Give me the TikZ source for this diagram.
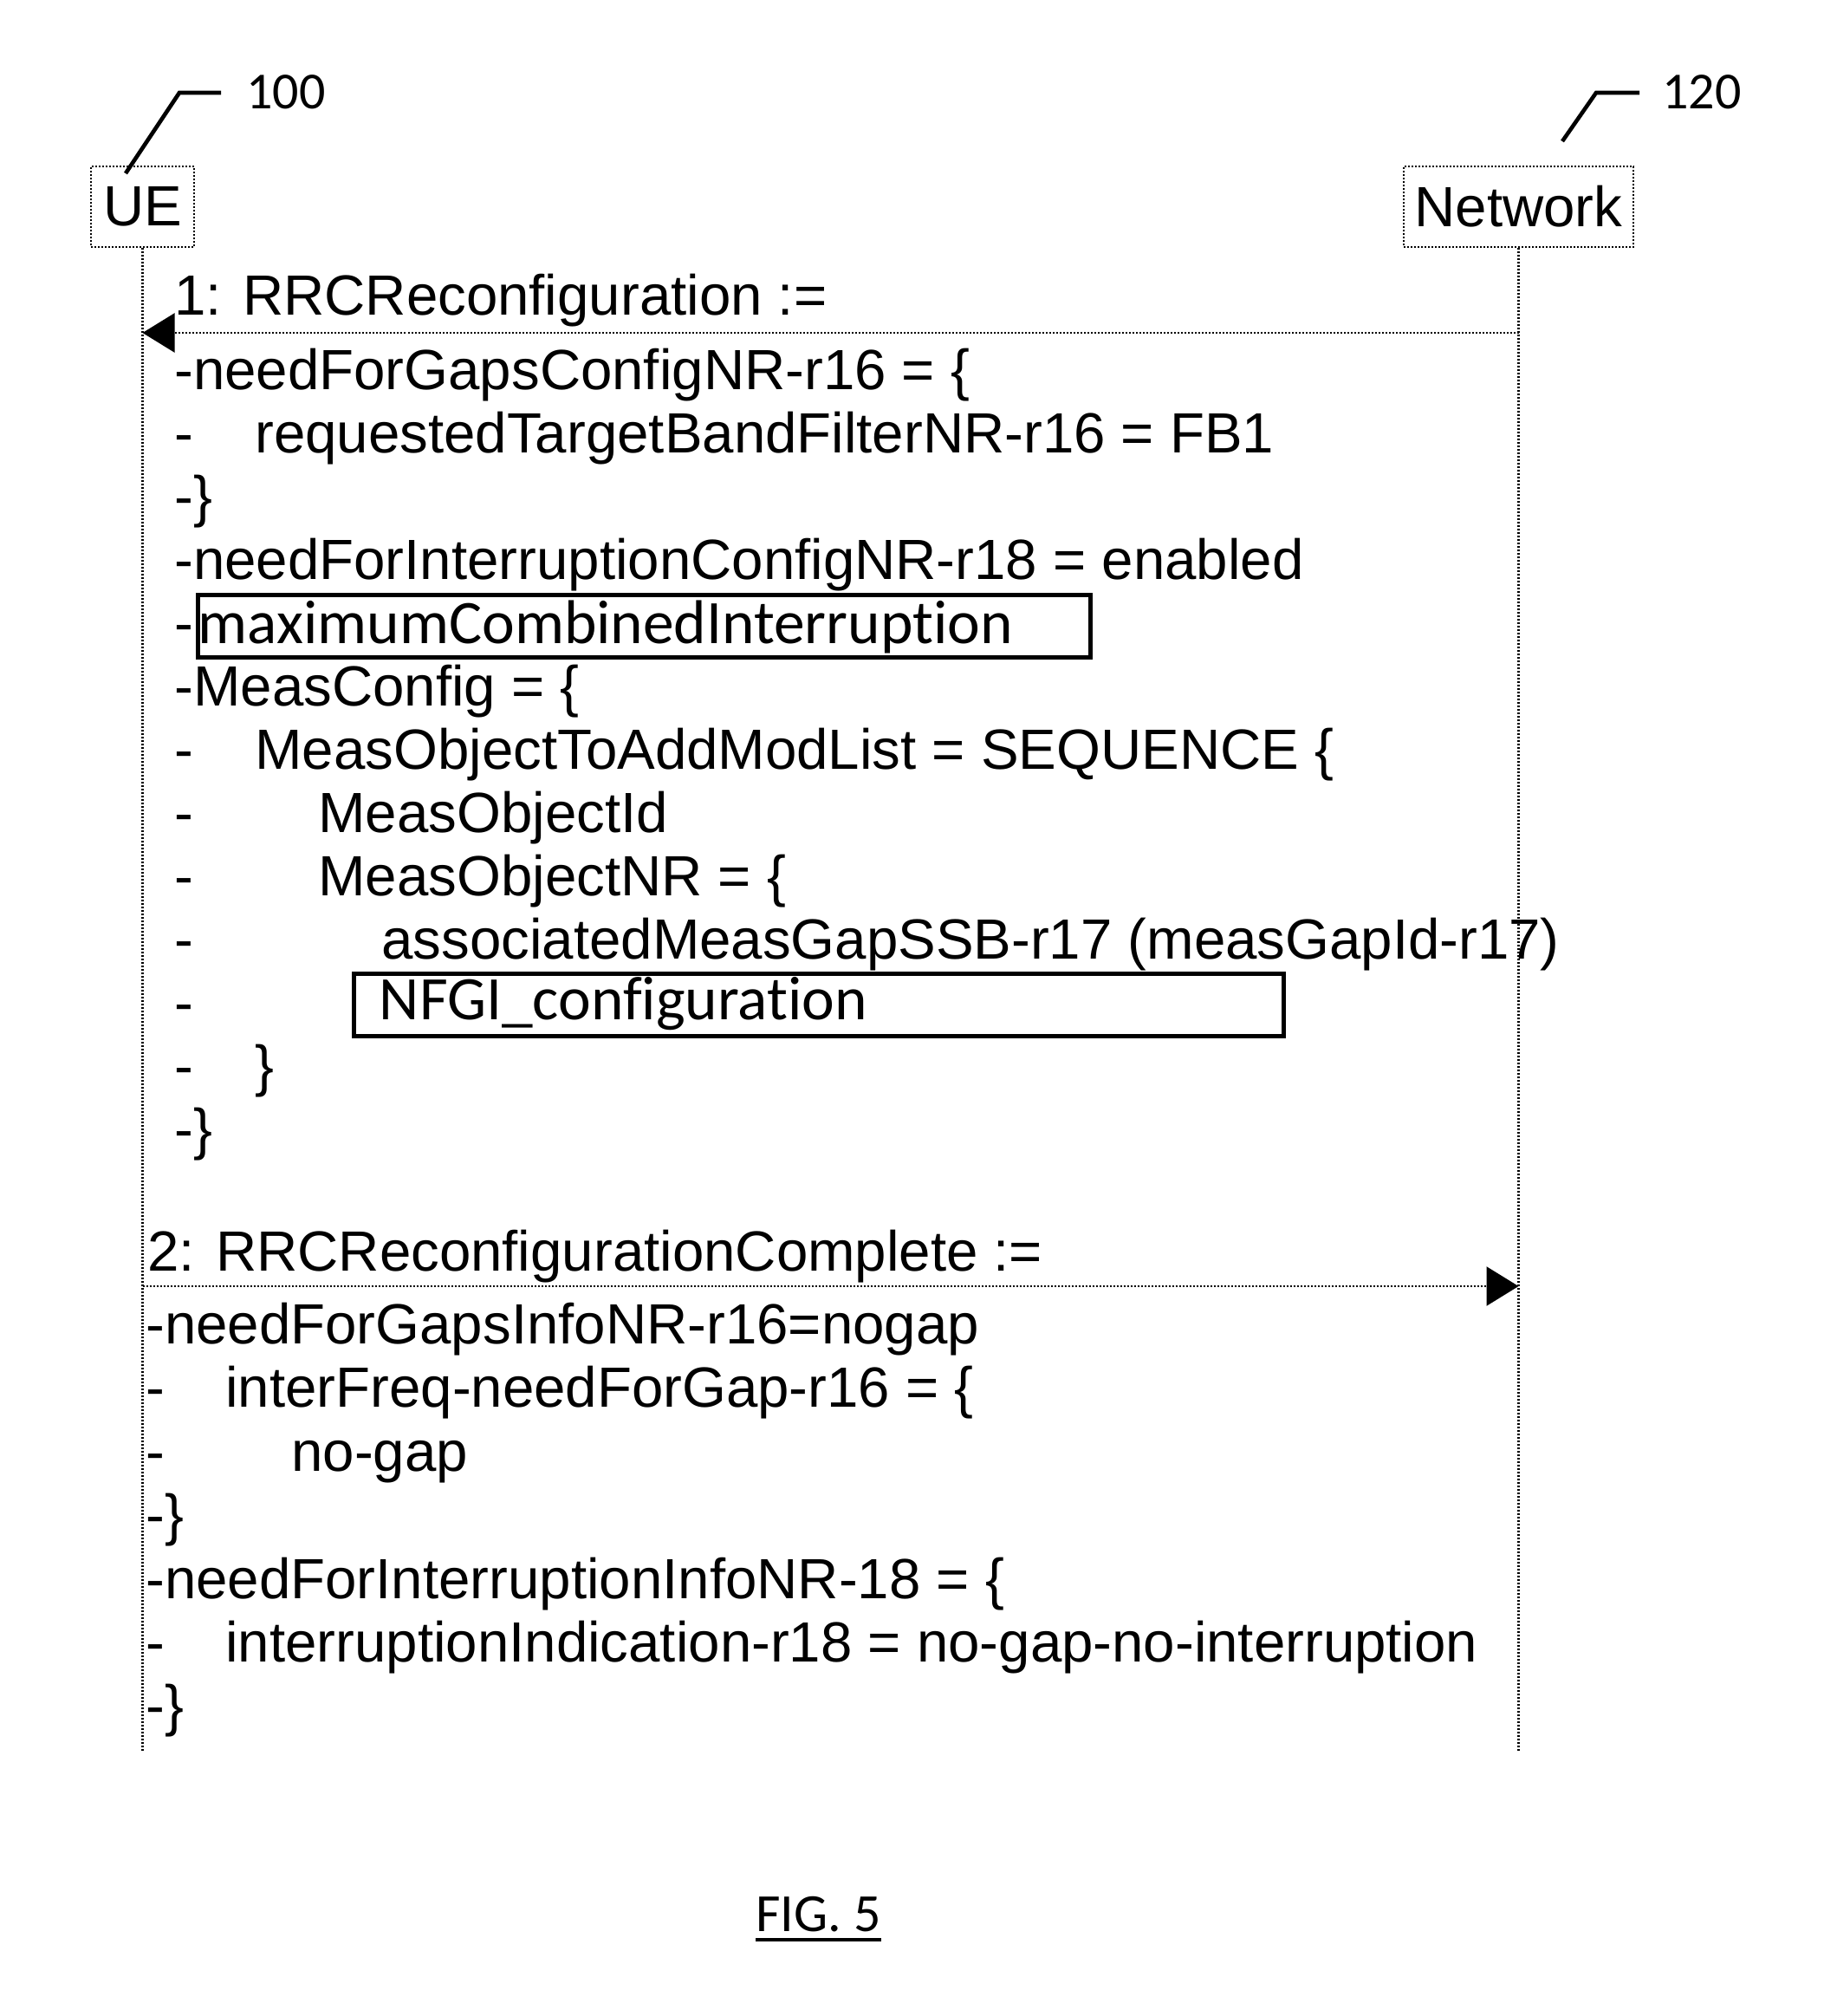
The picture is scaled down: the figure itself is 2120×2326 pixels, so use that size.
\documentclass[tikz,border=0pt]{standalone}
\usepackage{fontspec}
\setmainfont{Liberation Sans}
\newfontfamily\calfont[RawFeature=-liga]{Carlito}
\usetikzlibrary{arrows.meta}
\newcommand\ind[1]{\makebox[#1][l]{-}}
\begin{document}
\begin{tikzpicture}[x=0.5pt,y=-0.5pt,
  msg/.style={anchor=base west, inner sep=0pt, font=\fontsize{32.7}{39}\selectfont},
  cal/.style={anchor=base west, inner sep=0pt, font=\calfont\fontsize{35.7}{42}\selectfont},
  entity/.style={draw, dash pattern=on 1pt off 1pt, line width=1.2pt, inner sep=0pt, font=\fontsize{32.7}{39}\selectfont},
  life/.style={dash pattern=on 1pt off 1pt, line width=1.2pt},
  arr/.style={dash pattern=on 1pt off 1pt, line width=1.2pt, -{Triangle[length=18.5pt,width=22.5pt]}},
  hlbox/.style={draw, line width=2.6pt, inner sep=0pt, anchor=north west},
  leader/.style={line width=2.3pt},
]
\path[use as bounding box] (0,0) rectangle (2120,2326);

% entities
\node[entity, minimum width=59.5pt, minimum height=46.5pt] (ue) at (164.5,238.5) {UE};
\node[entity, minimum width=132.5pt, minimum height=46.5pt] (net) at (1752.5,238.5) {Network};
\coordinate (yend) at (0,2021);
\draw[life] (ue.south) -- (ue.south |- yend);
\draw[life] (net.south) -- (net.south |- yend);

% reference labels
\node[cal, font=\calfont\fontsize{30}{36}\selectfont] (l100) at (284,125) {100};
\node[cal, font=\calfont\fontsize{30}{36}\selectfont] (l120) at (1918,125) {120};
\coordinate (c100) at (145,200);
\coordinate (c120) at (1803,163);
\draw[leader] (c100) -- ++(62,-93) -- ++(48,0);
\draw[leader] (c120) -- ++(39,-56) -- ++(50,0);

% message 1
\coordinate (y1) at (0,384);
\draw[arr] (net.south |- y1) -- (ue.south |- y1);
\node[msg] (t1) at (201,363) {1: RRCReconfiguration :=};
\node[msg] (a1) at (201,449) {-needForGapsConfigNR-r16 = \{};
\node[msg] (a2) at (201,522) {\ind{46.5pt}requestedTargetBandFilterNR-r16 = FB1};
\node[msg] (a3) at (201,595) {-\}};
\node[msg] (a4) at (201,668) {-needForInterruptionConfigNR-r18 = enabled};
\node[msg] (a5) at (201,741) {-};
\node[hlbox, minimum width=515pt, minimum height=36.25pt] (box1) at (225.5,683.5) {};
\node[cal] (mci) at (228.5,742) {maximumCombinedInterruption};
\node[msg] (a6) at (201,814) {-MeasConfig = \{};
\node[msg] (a7) at (201,887) {\ind{46.5pt}MeasObjectToAddModList = SEQUENCE \{};
\node[msg] (a8) at (201,960) {\ind{83pt}MeasObjectId};
\node[msg] (a9) at (201,1033) {\ind{83pt}MeasObjectNR = \{};
\node[msg] (a10) at (201,1106) {\ind{119.5pt}associatedMeasGapSSB-r17 (measGapId-r17)};
\node[msg] (a11) at (201,1179) {-};
\node[hlbox, minimum width=536.5pt, minimum height=36pt] (box2) at (406,1121) {};
\node[cal] (nfgi) at (437.5,1176) {NFGI\_configuration};
\node[msg] (a12) at (201,1252) {\ind{46.5pt}\}};
\node[msg] (a13) at (201,1325) {-\}};

% message 2
\coordinate (y2) at (0,1484);
\draw[arr] (ue.south |- y2) -- (net.south |- y2);
\node[msg] (t2) at (170,1466) {2: RRCReconfigurationComplete :=};
\node[msg] (b1) at (168,1550) {-needForGapsInfoNR-r16=nogap};
\node[msg] (b2) at (168,1623) {\ind{46pt}interFreq-needForGap-r16 = \{};
\node[msg] (b3) at (168,1697) {\ind{84pt}no-gap};
\node[msg] (b4) at (168,1770) {-\}};
\node[msg] (b5) at (168,1844) {-needForInterruptionInfoNR-18 = \{};
\node[msg] (b6) at (168,1917) {\ind{46pt}interruptionIndication-r18 = no-gap-no-interruption};
\node[msg] (b7) at (168,1990) {-\}};

% caption
\node[cal, font=\calfont\fontsize{31}{37}\selectfont] (fig) at (872,2228) {FIG. 5};
\draw[line width=2pt] ([yshift=-5pt]fig.base west) -- ([yshift=-5pt]fig.base east);
\end{tikzpicture}
\end{document}
